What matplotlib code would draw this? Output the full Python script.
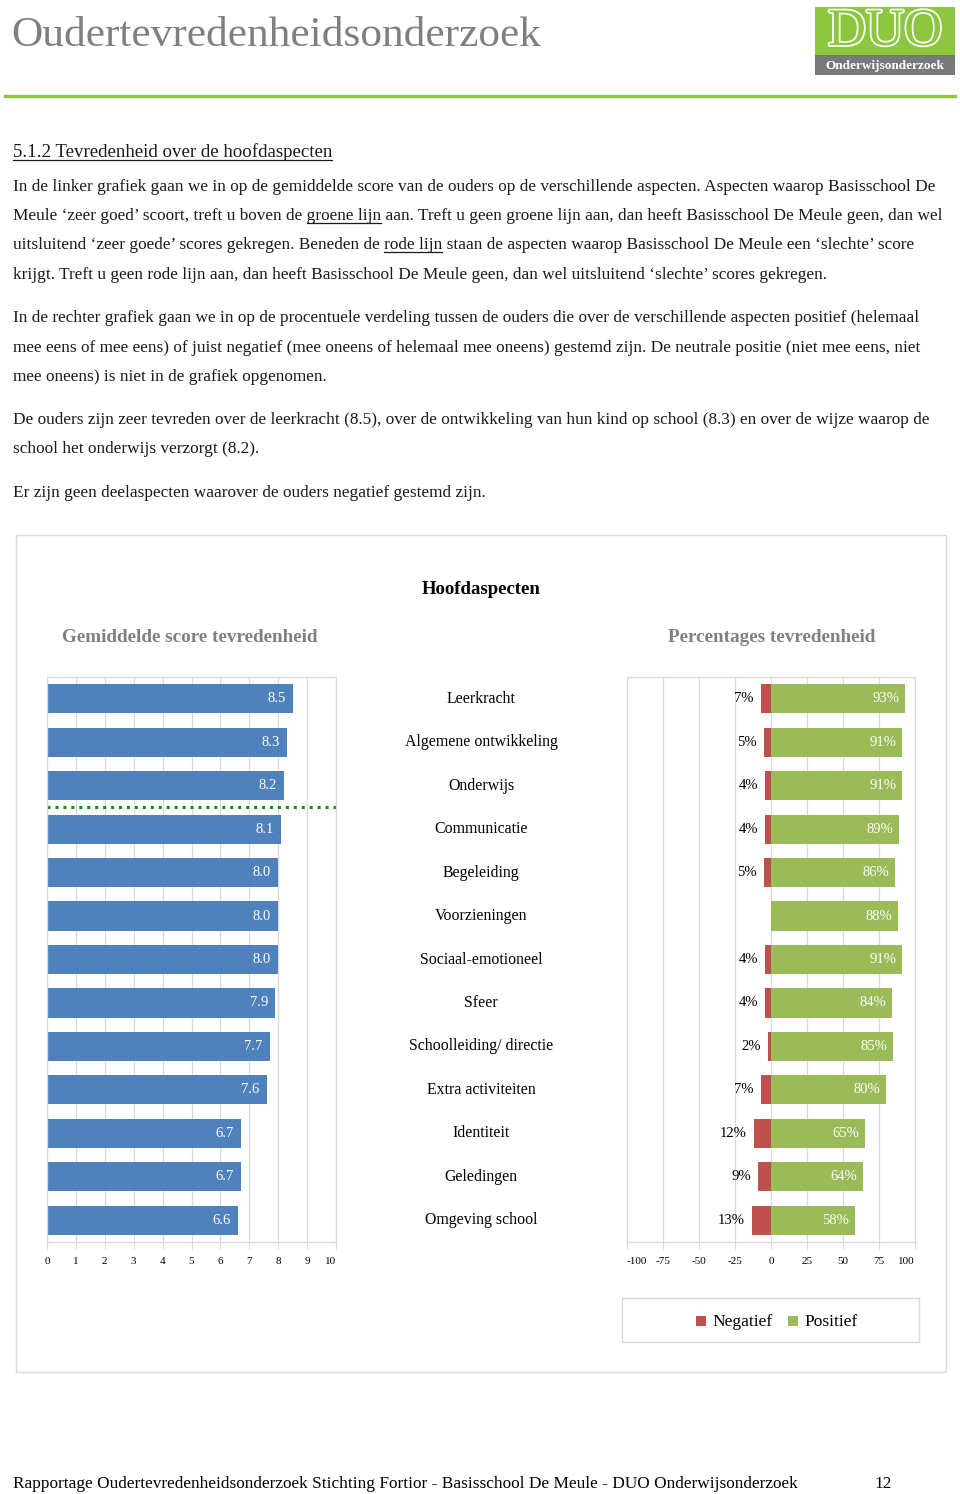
import matplotlib
matplotlib.use("Agg")
import matplotlib.pyplot as plt
from matplotlib.patches import Rectangle
import matplotlib.patheffects as pe

plt.rcParams['font.family'] = ['Liberation Serif', 'DejaVu Serif']

# ---------------- data ----------------
categories = ["Leerkracht", "Algemene ontwikkeling", "Onderwijs", "Communicatie",
              "Begeleiding", "Voorzieningen", "Sociaal-emotioneel", "Sfeer",
              "Schoolleiding/ directie", "Extra activiteiten", "Identiteit",
              "Geledingen", "Omgeving school"]
scores = [8.5, 8.3, 8.2, 8.1, 8.0, 8.0, 8.0, 7.9, 7.7, 7.6, 6.7, 6.7, 6.6]
negatief = [7, 5, 4, 4, 5, 0, 4, 4, 2, 7, 12, 9, 13]
positief = [93, 91, 91, 89, 86, 88, 91, 84, 85, 80, 65, 64, 58]
left_ticks = list(range(0, 11))
right_ticks = [-100, -75, -50, -25, 0, 25, 50, 75, 100]

W, H = 960, 1494
fig = plt.figure(figsize=(W / 100, H / 100), dpi=100)
fig.patch.set_facecolor('white')

BLUE = '#4f81bd'
RED = '#c0504d'
GREEN = '#9bbb59'
GRID = '#d9d9d9'
TXT = '#1a1a1a'


def fx(x):
    return x / W


def fy(y):
    return 1 - y / H


def ftext(x, y, s, **kw):
    return fig.text(fx(x), fy(y), s, **kw)


renderer = fig.canvas.get_renderer()


def text_width(s, size, **kw):
    t = fig.text(0, 0, s, fontsize=size, **kw)
    w = t.get_window_extent(renderer).width
    t.remove()
    return w


def underlined_line(x, ybase, s, unders, size, color=TXT):
    ftext(x, ybase, s, fontsize=size, color=color, va='baseline', ha='left')
    for u in unders:
        idx = s.index(u)
        prefix = s[:idx] + u
        w_end = text_width(prefix, size)
        w_u = text_width(u, size)
        x0 = x + w_end - w_u
        x1 = x + w_end
        fig.add_artist(plt.Line2D([fx(x0), fx(x1)], [fy(ybase + 3), fy(ybase + 3)],
                                  color=color, lw=0.9, transform=fig.transFigure))


# ---------------- header ----------------
ftext(11, 46, "Oudertevredenheidsonderzoek", fontsize=31.2, color='#7f7f7f',
      va='baseline', ha='left')
fig.add_artist(plt.Line2D([fx(5), fx(955)], [fy(96), fy(96)], color='#8dc63f',
                          lw=2.4, transform=fig.transFigure))
# logo
fig.add_artist(Rectangle((fx(815), fy(75)), fx(140), 68 / H, transform=fig.transFigure,
                         facecolor='#8dc63f', edgecolor='none'))
fig.add_artist(Rectangle((fx(815), fy(75)), fx(140), 20 / H, transform=fig.transFigure,
                         facecolor='#777a7d', edgecolor='none'))
ftext(885, 32, "DUO", fontsize=38, color='#8dc63f', ha='center', va='center',
      path_effects=[pe.withStroke(linewidth=2.5, foreground='white')])
ftext(885, 66, "Onderwijsonderzoek", fontsize=9.5, color='white', fontweight='bold',
      ha='center', va='center')

# ---------------- text ----------------
PS = 12.45
underlined_line(13, 157, "5.1.2 Tevredenheid over de hoofdaspecten",
                ["5.1.2 Tevredenheid over de hoofdaspecten"], 13.6)
para_lines = [
    (191, "In de linker grafiek gaan we in op de gemiddelde score van de ouders op de verschillende aspecten. Aspecten waarop Basisschool De", []),
    (220, "Meule \u2018zeer goed\u2019 scoort, treft u boven de groene lijn aan. Treft u geen groene lijn aan, dan heeft Basisschool De Meule geen, dan wel", ["groene lijn"]),
    (249, "uitsluitend \u2018zeer goede\u2019 scores gekregen. Beneden de rode lijn staan de aspecten waarop Basisschool De Meule een \u2018slechte\u2019 score", ["rode lijn"]),
    (279, "krijgt. Treft u geen rode lijn aan, dan heeft Basisschool De Meule geen, dan wel uitsluitend \u2018slechte\u2019 scores gekregen.", []),
    (322, "In de rechter grafiek gaan we in op de procentuele verdeling tussen de ouders die over de verschillende aspecten positief (helemaal", []),
    (352, "mee eens of mee eens) of juist negatief (mee oneens of helemaal mee oneens) gestemd zijn. De neutrale positie (niet mee eens, niet", []),
    (381, "mee oneens) is niet in de grafiek opgenomen.", []),
    (424, "De ouders zijn zeer tevreden over de leerkracht (8.5), over de ontwikkeling van hun kind op school (8.3) en over de wijze waarop de", []),
    (453, "school het onderwijs verzorgt (8.2).", []),
    (497, "Er zijn geen deelaspecten waarover de ouders negatief gestemd zijn.", []),
]
for yb, s, u in para_lines:
    underlined_line(13, yb, s, u, PS)

# ---------------- chart frame ----------------
fig.add_artist(Rectangle((fx(16), fy(1372)), fx(930), 837 / H, transform=fig.transFigure,
                         facecolor='none', edgecolor=GRID, lw=1))
ftext(481, 590, "Hoofdaspecten", fontsize=13.5, fontweight='bold', color='black',
      ha='center', va='center')
ftext(190, 638, "Gemiddelde score tevredenheid", fontsize=13.8, fontweight='bold',
      color='#808080', ha='center', va='center')
ftext(772, 638, "Percentages tevredenheid", fontsize=13.8, fontweight='bold',
      color='#808080', ha='center', va='center')

n = len(categories)
ypos = list(range(n))
ax_top, ax_bot = 677, 1242


def style_ax(ax, ticks, labels, inner_first):
    ax.set_ylim(n - 0.5, -0.5)
    ax.set_xticks(ticks)
    ax.set_xticklabels(labels, fontsize=8)
    ax.set_yticks([])
    ax.grid(axis='x', color=GRID, lw=0.9)
    ax.set_axisbelow(True)
    for sp in ax.spines.values():
        sp.set_color(GRID)
        sp.set_linewidth(0.9)
    ax.tick_params(axis='x', length=5, color=GRID, pad=6, labelcolor='black')
    lbls = ax.get_xticklabels()
    if inner_first:
        lbls[0].set_horizontalalignment('left')
    lbls[-1].set_horizontalalignment('right')


# left chart
axL = fig.add_axes([fx(47), fy(ax_bot), fx(289), (ax_bot - ax_top) / H])
axL.barh(ypos, scores, height=0.67, color=BLUE)
axL.set_xlim(0, 10)
style_ax(axL, left_ticks, [str(t) for t in left_ticks], False)
for yv, v in zip(ypos, scores):
    axL.text(v - 0.25, yv, f"{v:.1f}", color='white', fontsize=10.5, ha='right', va='center')
axL.axhline(2.5, color='#1e8a1e', lw=2.2, ls=(0, (1, 1.6)))

# category labels
for yv, c in zip(ypos, categories):
    ftext(481, ax_top + (yv + 0.5) * (ax_bot - ax_top) / n, c, fontsize=11.4,
          color='black', ha='center', va='center')

# right chart
axR = fig.add_axes([fx(627), fy(ax_bot), fx(288), (ax_bot - ax_top) / H])
axR.barh(ypos, [-v for v in negatief], height=0.67, color=RED, label='Negatief')
axR.barh(ypos, positief, height=0.67, color=GREEN, label='Positief')
axR.set_xlim(-100, 100)
style_ax(axR, right_ticks, [str(t) for t in right_ticks], True)
for yv, neg, pos in zip(ypos, negatief, positief):
    if neg > 0:
        axR.text(-neg - 5, yv, f"{neg}%", color='black', fontsize=10.5, ha='right', va='center')
    axR.text(pos - 4, yv, f"{pos}%", color='white', fontsize=10.5, ha='right', va='center')

# legend box
fig.add_artist(Rectangle((fx(622), fy(1342)), fx(297), 44 / H, transform=fig.transFigure,
                         facecolor='none', edgecolor=GRID, lw=1))
fig.add_artist(Rectangle((fx(696), fy(1326)), fx(10), 10 / H, transform=fig.transFigure,
                         facecolor=RED, edgecolor='none'))
ftext(712, 1322, "Negatief", fontsize=12.5, color='black', ha='left', va='center')
fig.add_artist(Rectangle((fx(788), fy(1326)), fx(10), 10 / H, transform=fig.transFigure,
                         facecolor=GREEN, edgecolor='none'))
ftext(804, 1322, "Positief", fontsize=12.5, color='black', ha='left', va='center')

# ---------------- footer ----------------
ftext(13, 1488, "Rapportage Oudertevredenheidsonderzoek Stichting Fortior - Basisschool De Meule - DUO Onderwijsonderzoek",
      fontsize=12.4, color='black', ha='left', va='baseline')
ftext(874, 1488, "12", fontsize=12.4, color='black', ha='left', va='baseline')

fig.savefig("out.png", dpi=100, facecolor='white')
